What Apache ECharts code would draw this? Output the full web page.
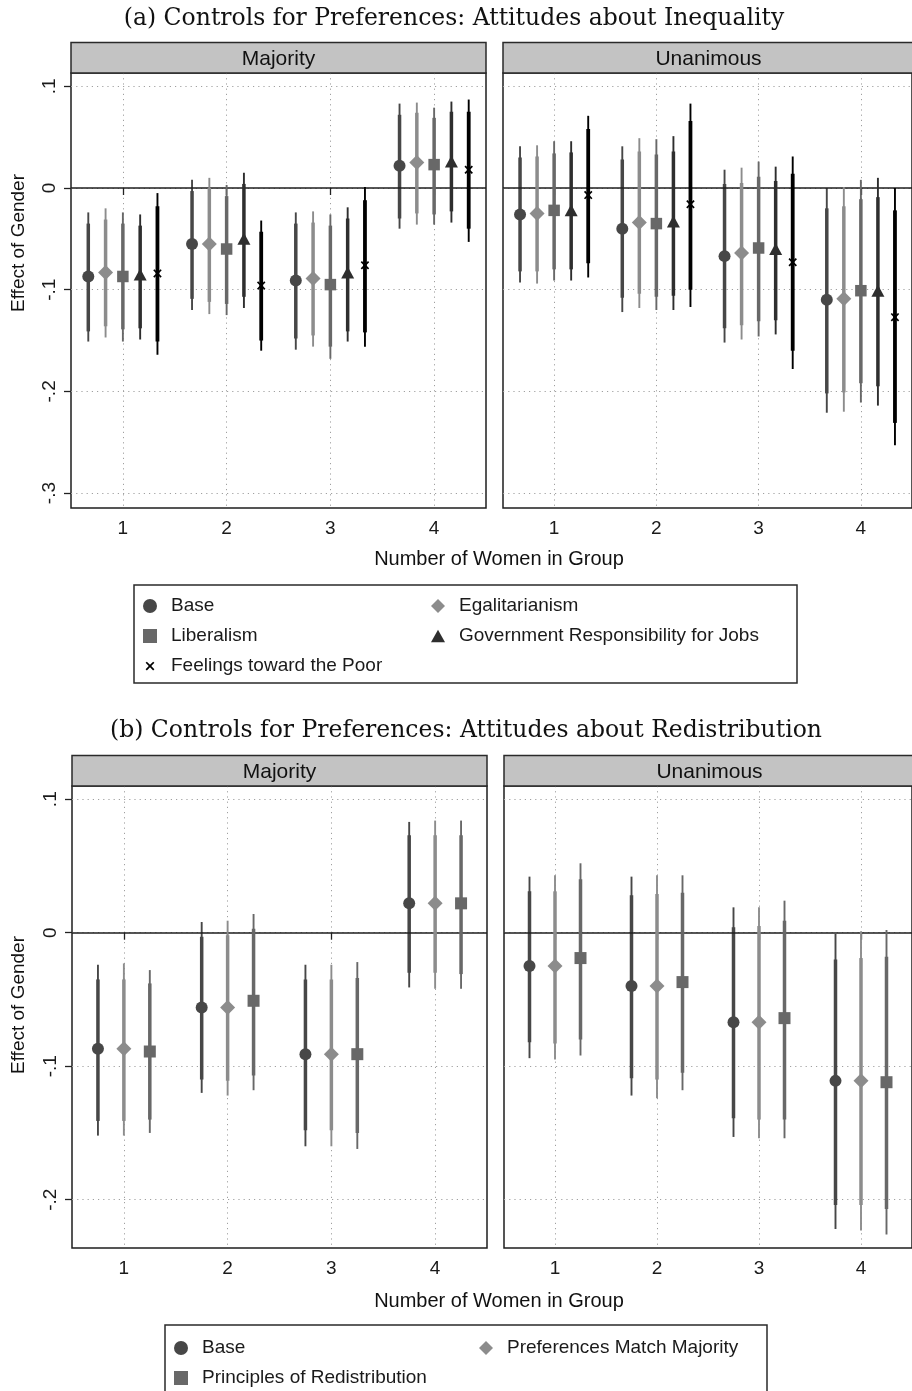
<!DOCTYPE html>
<html><head><meta charset="utf-8">
<script src="https://cdn.jsdelivr.net/npm/echarts@6/dist/echarts.min.js"></script>
<style>html,body{margin:0;padding:0;background:#fff}#c{width:912px;height:1391px}</style>
</head><body><div id="c"></div>
<script>
// ---------------- DATA ----------------
const groups = [1, 2, 3, 4];
const xTickLabels = ['1', '2', '3', '4'];
const yTicksA = [-0.3, -0.2, -0.1, 0, 0.1];
const yTickLabelsA = ['-.3', '-.2', '-.1', '0', '.1'];
const yTicksB = [-0.2, -0.1, 0, 0.1];
const yTickLabelsB = ['-.2', '-.1', '0', '.1'];
const facets = ['Majority', 'Unanimous'];
const titleA = '(a) Controls for Preferences: Attitudes about Inequality';
const titleB = '(b) Controls for Preferences: Attitudes about Redistribution';
const xTitle = 'Number of Women in Group';
const yTitle = 'Effect of Gender';
const namesA = ['Base', 'Egalitarianism', 'Liberalism', 'Government Responsibility for Jobs', 'Feelings toward the Poor'];
const namesB = ['Base', 'Preferences Match Majority', 'Principles of Redistribution'];

// Panel (a), Majority
const aMajBaseEst = [-0.087, -0.055, -0.091, 0.022];
const aMajBase95 = [[-0.151,-0.024],[-0.120,0.008],[-0.159,-0.024],[-0.040,0.083]];
const aMajBase90 = [[-0.141,-0.035],[-0.109,-0.003],[-0.148,-0.035],[-0.030,0.072]];
const aMajEgalEst = [-0.083, -0.055, -0.089, 0.025];
const aMajEgal95 = [[-0.147,-0.020],[-0.124,0.010],[-0.156,-0.023],[-0.036,0.084]];
const aMajEgal90 = [[-0.136,-0.031],[-0.112,0.000],[-0.145,-0.034],[-0.025,0.074]];
const aMajLibEst = [-0.087, -0.060, -0.095, 0.023];
const aMajLib95 = [[-0.151,-0.024],[-0.125,0.003],[-0.168,-0.026],[-0.036,0.079]];
const aMajLib90 = [[-0.139,-0.035],[-0.114,-0.008],[-0.156,-0.037],[-0.026,0.069]];
const aMajJobsEst = [-0.085, -0.050, -0.083, 0.026];
const aMajJobs95 = [[-0.149,-0.026],[-0.118,0.015],[-0.151,-0.019],[-0.034,0.085]];
const aMajJobs90 = [[-0.138,-0.037],[-0.107,0.004],[-0.141,-0.030],[-0.023,0.075]];
const aMajPoorEst = [-0.084, -0.096, -0.076, 0.018];
const aMajPoor95 = [[-0.164,-0.005],[-0.160,-0.032],[-0.156,0.001],[-0.053,0.087]];
const aMajPoor90 = [[-0.151,-0.018],[-0.150,-0.043],[-0.142,-0.012],[-0.040,0.075]];

// Panel (a), Unanimous
const aUnaBaseEst = [-0.026, -0.040, -0.067, -0.110];
const aUnaBase95 = [[-0.093,0.041],[-0.122,0.041],[-0.152,0.018],[-0.221,0.000]];
const aUnaBase90 = [[-0.082,0.030],[-0.108,0.028],[-0.138,0.004],[-0.202,-0.020]];
const aUnaEgalEst = [-0.025, -0.034, -0.064, -0.109];
const aUnaEgal95 = [[-0.094,0.042],[-0.118,0.049],[-0.149,0.020],[-0.220,0.001]];
const aUnaEgal90 = [[-0.082,0.031],[-0.104,0.036],[-0.135,0.005],[-0.201,-0.018]];
const aUnaLibEst = [-0.022, -0.035, -0.059, -0.101];
const aUnaLib95 = [[-0.091,0.046],[-0.120,0.048],[-0.146,0.026],[-0.211,0.008]];
const aUnaLib90 = [[-0.080,0.034],[-0.107,0.033],[-0.131,0.011],[-0.192,-0.011]];
const aUnaJobsEst = [-0.022, -0.033, -0.060, -0.101];
const aUnaJobs95 = [[-0.091,0.046],[-0.120,0.051],[-0.144,0.021],[-0.214,0.010]];
const aUnaJobs90 = [[-0.080,0.035],[-0.106,0.036],[-0.130,0.007],[-0.195,-0.009]];
const aUnaPoorEst = [-0.007, -0.016, -0.073, -0.127];
const aUnaPoor95 = [[-0.088,0.071],[-0.117,0.083],[-0.178,0.031],[-0.253,0.000]];
const aUnaPoor90 = [[-0.074,0.058],[-0.100,0.066],[-0.160,0.014],[-0.231,-0.022]];

// Panel (b), Majority
const bMajBaseEst = [-0.087, -0.056, -0.091, 0.022];
const bMajBase95 = [[-0.152,-0.024],[-0.120,0.008],[-0.160,-0.024],[-0.041,0.083]];
const bMajBase90 = [[-0.141,-0.035],[-0.110,-0.003],[-0.148,-0.035],[-0.030,0.073]];
const bMajPrefEst = [-0.087, -0.056, -0.091, 0.022];
const bMajPref95 = [[-0.152,-0.023],[-0.122,0.009],[-0.160,-0.024],[-0.042,0.084]];
const bMajPref90 = [[-0.141,-0.035],[-0.111,-0.002],[-0.148,-0.035],[-0.030,0.073]];
const bMajPrinEst = [-0.089, -0.051, -0.091, 0.022];
const bMajPrin95 = [[-0.150,-0.028],[-0.118,0.014],[-0.162,-0.022],[-0.042,0.084]];
const bMajPrin90 = [[-0.140,-0.038],[-0.107,0.003],[-0.150,-0.034],[-0.031,0.073]];

// Panel (b), Unanimous
const bUnaBaseEst = [-0.025, -0.040, -0.067, -0.111];
const bUnaBase95 = [[-0.094,0.042],[-0.122,0.042],[-0.153,0.019],[-0.222,-0.001]];
const bUnaBase90 = [[-0.082,0.031],[-0.109,0.028],[-0.139,0.004],[-0.204,-0.020]];
const bUnaPrefEst = [-0.025, -0.040, -0.067, -0.111];
const bUnaPref95 = [[-0.095,0.043],[-0.124,0.043],[-0.154,0.019],[-0.223,0.001]];
const bUnaPref90 = [[-0.083,0.031],[-0.110,0.029],[-0.140,0.005],[-0.204,-0.019]];
const bUnaPrinEst = [-0.019, -0.037, -0.064, -0.112];
const bUnaPrin95 = [[-0.092,0.052],[-0.118,0.043],[-0.154,0.024],[-0.226,0.002]];
const bUnaPrin90 = [[-0.080,0.040],[-0.105,0.030],[-0.140,0.009],[-0.207,-0.018]];

// ---------------- STYLE / LAYOUT ----------------
const SANS = '"Liberation Sans", Arial, Helvetica, sans-serif';
const SERIF = '"DejaVu Serif", "Liberation Serif", serif';
const X_PATH = 'path://M0,1.4L1.4,0L5,3.6L8.6,0L10,1.4L6.4,5L10,8.6L8.6,10L5,6.4L1.4,10L0,8.6L3.6,5Z';
const X_LEG = 'path://M-3,-3M0,1.4L1.4,0L5,3.6L8.6,0L10,1.4L6.4,5L10,8.6L8.6,10L5,6.4L1.4,10L0,8.6L3.6,5ZM13,13';
const SQ_PATH = 'path://M0,0H10V10H0Z';
const DI_PATH = 'path://M5,0L10,5L5,10L0,5Z';
const TRI_PATH = 'path://M5,0L10,9L0,9Z';
const styles = {
  'Base': {symbol: 'circle', size: 12, color: '#474747', icon: 'circle'},
  'Egalitarianism': {symbol: 'diamond', size: 15, color: '#8c8c8c', icon: DI_PATH},
  'Liberalism': {symbol: 'rect', size: 11.5, color: '#686868', icon: SQ_PATH},
  'Government Responsibility for Jobs': {symbol: 'triangle', size: [13, 12], color: '#2e2e2e', icon: TRI_PATH},
  'Feelings toward the Poor': {symbol: X_PATH, size: 8.5, color: '#000000', icon: X_LEG},
  'Preferences Match Majority': {symbol: 'diamond', size: 15, color: '#8c8c8c', icon: DI_PATH},
  'Principles of Redistribution': {symbol: 'rect', size: 12, color: '#686868', icon: SQ_PATH}
};
const offsetsA = [-1/3, -1/6, 0, 1/6, 1/3];
const offsetsB = [-0.25, 0, 0.25];

const grids = [
  {left: 71, top: 73, width: 415, height: 435},
  {left: 503, top: 73, width: 415, height: 435},
  {left: 72, top: 786, width: 415, height: 462},
  {left: 504, top: 786, width: 415, height: 462}
];
const yRange = [[-0.3147, 0.1131], [-0.3147, 0.1131], [-0.2362, 0.1099], [-0.2362, 0.1099]];

const panels = [
  {grid: 0, names: namesA, offsets: offsetsA, est: [aMajBaseEst, aMajEgalEst, aMajLibEst, aMajJobsEst, aMajPoorEst],
    c95: [aMajBase95, aMajEgal95, aMajLib95, aMajJobs95, aMajPoor95], c90: [aMajBase90, aMajEgal90, aMajLib90, aMajJobs90, aMajPoor90]},
  {grid: 1, names: namesA, offsets: offsetsA, est: [aUnaBaseEst, aUnaEgalEst, aUnaLibEst, aUnaJobsEst, aUnaPoorEst],
    c95: [aUnaBase95, aUnaEgal95, aUnaLib95, aUnaJobs95, aUnaPoor95], c90: [aUnaBase90, aUnaEgal90, aUnaLib90, aUnaJobs90, aUnaPoor90]},
  {grid: 2, names: namesB, offsets: offsetsB, est: [bMajBaseEst, bMajPrefEst, bMajPrinEst],
    c95: [bMajBase95, bMajPref95, bMajPrin95], c90: [bMajBase90, bMajPref90, bMajPrin90]},
  {grid: 3, names: namesB, offsets: offsetsB, est: [bUnaBaseEst, bUnaPrefEst, bUnaPrinEst],
    c95: [bUnaBase95, bUnaPref95, bUnaPrin95], c90: [bUnaBase90, bUnaPref90, bUnaPrin90]}
];

const GRIDLINE = {color: '#a0a0a0', width: 1, type: [1.2, 4]};

const xAxes = grids.map((g, i) => ({
  type: 'value', gridIndex: i, min: 0.5, max: 4.5,
  axisLine: {show: false},
  axisTick: {show: true, length: 7, customValues: groups, lineStyle: {color: '#222', width: 1.3}},
  axisLabel: {show: true, customValues: groups, margin: 11, fontSize: 19, fontFamily: SANS, color: '#1a1a1a',
    formatter: v => xTickLabels[groups.indexOf(Math.round(v))] || ''},
  splitLine: {show: true, lineStyle: GRIDLINE}
}));
const yAxes = grids.map((g, i) => {
  const ticks = i < 2 ? yTicksA : yTicksB;
  const labs = i < 2 ? yTickLabelsA : yTickLabelsB;
  const left = (i % 2 === 0);
  return {
    type: 'value', gridIndex: i, min: yRange[i][0], max: yRange[i][1],
    axisLine: {show: false},
    axisTick: {show: left, length: 7, customValues: ticks, lineStyle: {color: '#222', width: 1.3}},
    axisLabel: {show: left, customValues: ticks, rotate: 90, margin: 12, fontSize: 19, fontFamily: SANS, color: '#1a1a1a',
      formatter: v => { const k = ticks.findIndex(t => Math.abs(t - v) < 1e-6); return k >= 0 ? labs[k] : ''; }},
    splitLine: {show: true, lineStyle: GRIDLINE}
  };
});

function makeCI(color, thin, thick) {
  return function (params, api) {
    const x = api.value(0);
    const a = api.coord([x, api.value(1)]), b = api.coord([x, api.value(2)]);
    const c = api.coord([x, api.value(3)]), d = api.coord([x, api.value(4)]);
    return {type: 'group', children: [
      {type: 'line', shape: {x1: a[0], y1: a[1], x2: b[0], y2: b[1]}, style: {stroke: color, lineWidth: thin}},
      {type: 'line', shape: {x1: c[0], y1: c[1], x2: d[0], y2: d[1]}, style: {stroke: color, lineWidth: thick}}
    ]};
  };
}

const series = [];
panels.forEach(p => {
  // zero reference line
  series.push({type: 'scatter', name: 'zero' + p.grid, xAxisIndex: p.grid, yAxisIndex: p.grid, data: [], z: 1, silent: true,
    markLine: {silent: true, symbol: 'none', animation: false, label: {show: false},
      lineStyle: {color: '#1e1e1e', width: 1.5, type: 'solid'}, data: [{yAxis: 0}]}});
  p.names.forEach((name, k) => {
    const st = styles[name];
    const off = p.offsets[k];
    const ciData = groups.map((g, i) => [g + off, p.c95[k][i][0], p.c95[k][i][1], p.c90[k][i][0], p.c90[k][i][1]]);
    series.push({type: 'custom', name: name + ' CI', xAxisIndex: p.grid, yAxisIndex: p.grid, z: 3 + k * 2, silent: true,
      renderItem: makeCI(st.color, 1.9, name === 'Feelings toward the Poor' ? 3.8 : 3.5), data: ciData, encode: {x: 0, y: [1, 2]}});
    series.push({type: 'scatter', name: name, xAxisIndex: p.grid, yAxisIndex: p.grid, z: 4 + k * 2, silent: true,
      symbol: st.symbol, symbolSize: st.size, itemStyle: {color: st.color, opacity: 1},
      data: groups.map((g, i) => [g + off, p.est[k][i]])});
  });
});

function legendCol(names, left, top) {
  return {
    orient: 'vertical', left: left, top: top, height: 300, padding: 0, selectedMode: false,
    itemWidth: 14, itemHeight: 14, itemGap: 10,
    textStyle: {fontSize: 19, fontFamily: SANS, color: '#1a1a1a', lineHeight: 20, padding: [0, 0, 0, 9]},
    data: names.map(n => ({name: n, icon: styles[n].icon, itemStyle: {color: styles[n].color}}))
  };
}
const legends = [
  legendCol([namesA[0], namesA[2], namesA[4]], 143, 596),
  legendCol([namesA[1], namesA[3]], 431, 596),
  legendCol([namesB[0], namesB[2]], 174, 1338),
  legendCol([namesB[1]], 479, 1338)
];

const graphics = [];
function strip(g, top, h, label) {
  graphics.push({type: 'rect', shape: {x: g.left, y: top, width: g.width, height: h}, z: 10,
    style: {fill: '#c3c3c3', stroke: '#2a2a2a', lineWidth: 1.5}});
  graphics.push({type: 'text', x: g.left + g.width / 2 - (g.left > 400 ? 2 : 0), y: top + h / 2 + 1, z: 11,
    style: {text: label, font: '21px ' + SANS, fill: '#111', textAlign: 'center', textVerticalAlign: 'middle'}});
}
strip({left: 71, width: 415}, 42.5, 30.5, facets[0]);
strip({left: 503, width: 415}, 42.5, 30.5, facets[1]);
strip({left: 72, width: 415}, 755.5, 30.5, facets[0]);
strip({left: 504, width: 415}, 755.5, 30.5, facets[1]);
graphics.push({type: 'text', x: 454, y: 19, style: {text: titleA, font: '23.5px ' + SERIF, fill: '#111', textAlign: 'center', textVerticalAlign: 'middle'}});
graphics.push({type: 'text', x: 466, y: 731, style: {text: titleB, font: '23.5px ' + SERIF, fill: '#111', textAlign: 'center', textVerticalAlign: 'middle'}});
graphics.push({type: 'text', x: 499, y: 559, style: {text: xTitle, font: '20px ' + SANS, fill: '#111', textAlign: 'center', textVerticalAlign: 'middle'}});
graphics.push({type: 'text', x: 499, y: 1301, style: {text: xTitle, font: '20px ' + SANS, fill: '#111', textAlign: 'center', textVerticalAlign: 'middle'}});
graphics.push({type: 'text', x: 19, y: 243, rotation: Math.PI / 2, style: {text: yTitle, font: '19px ' + SANS, fill: '#111', textAlign: 'center', textVerticalAlign: 'middle'}});
graphics.push({type: 'text', x: 19, y: 1005, rotation: Math.PI / 2, style: {text: yTitle, font: '19px ' + SANS, fill: '#111', textAlign: 'center', textVerticalAlign: 'middle'}});
graphics.push({type: 'rect', shape: {x: 134, y: 585, width: 663, height: 98}, style: {fill: 'none', stroke: '#2a2a2a', lineWidth: 1.5}});
graphics.push({type: 'rect', shape: {x: 165, y: 1325, width: 602, height: 80}, style: {fill: 'none', stroke: '#2a2a2a', lineWidth: 1.5}});

const chart = echarts.init(document.getElementById('c'), null, {renderer: 'canvas'});
chart.setOption({
  animation: false,
  backgroundColor: '#ffffff',
  grid: grids.map(g => Object.assign({show: true, borderColor: '#1e1e1e', borderWidth: 1.5, backgroundColor: '#fff', containLabel: false}, g)),
  xAxis: xAxes,
  yAxis: yAxes,
  legend: legends,
  series: series,
  graphic: graphics
});
</script></body></html>
